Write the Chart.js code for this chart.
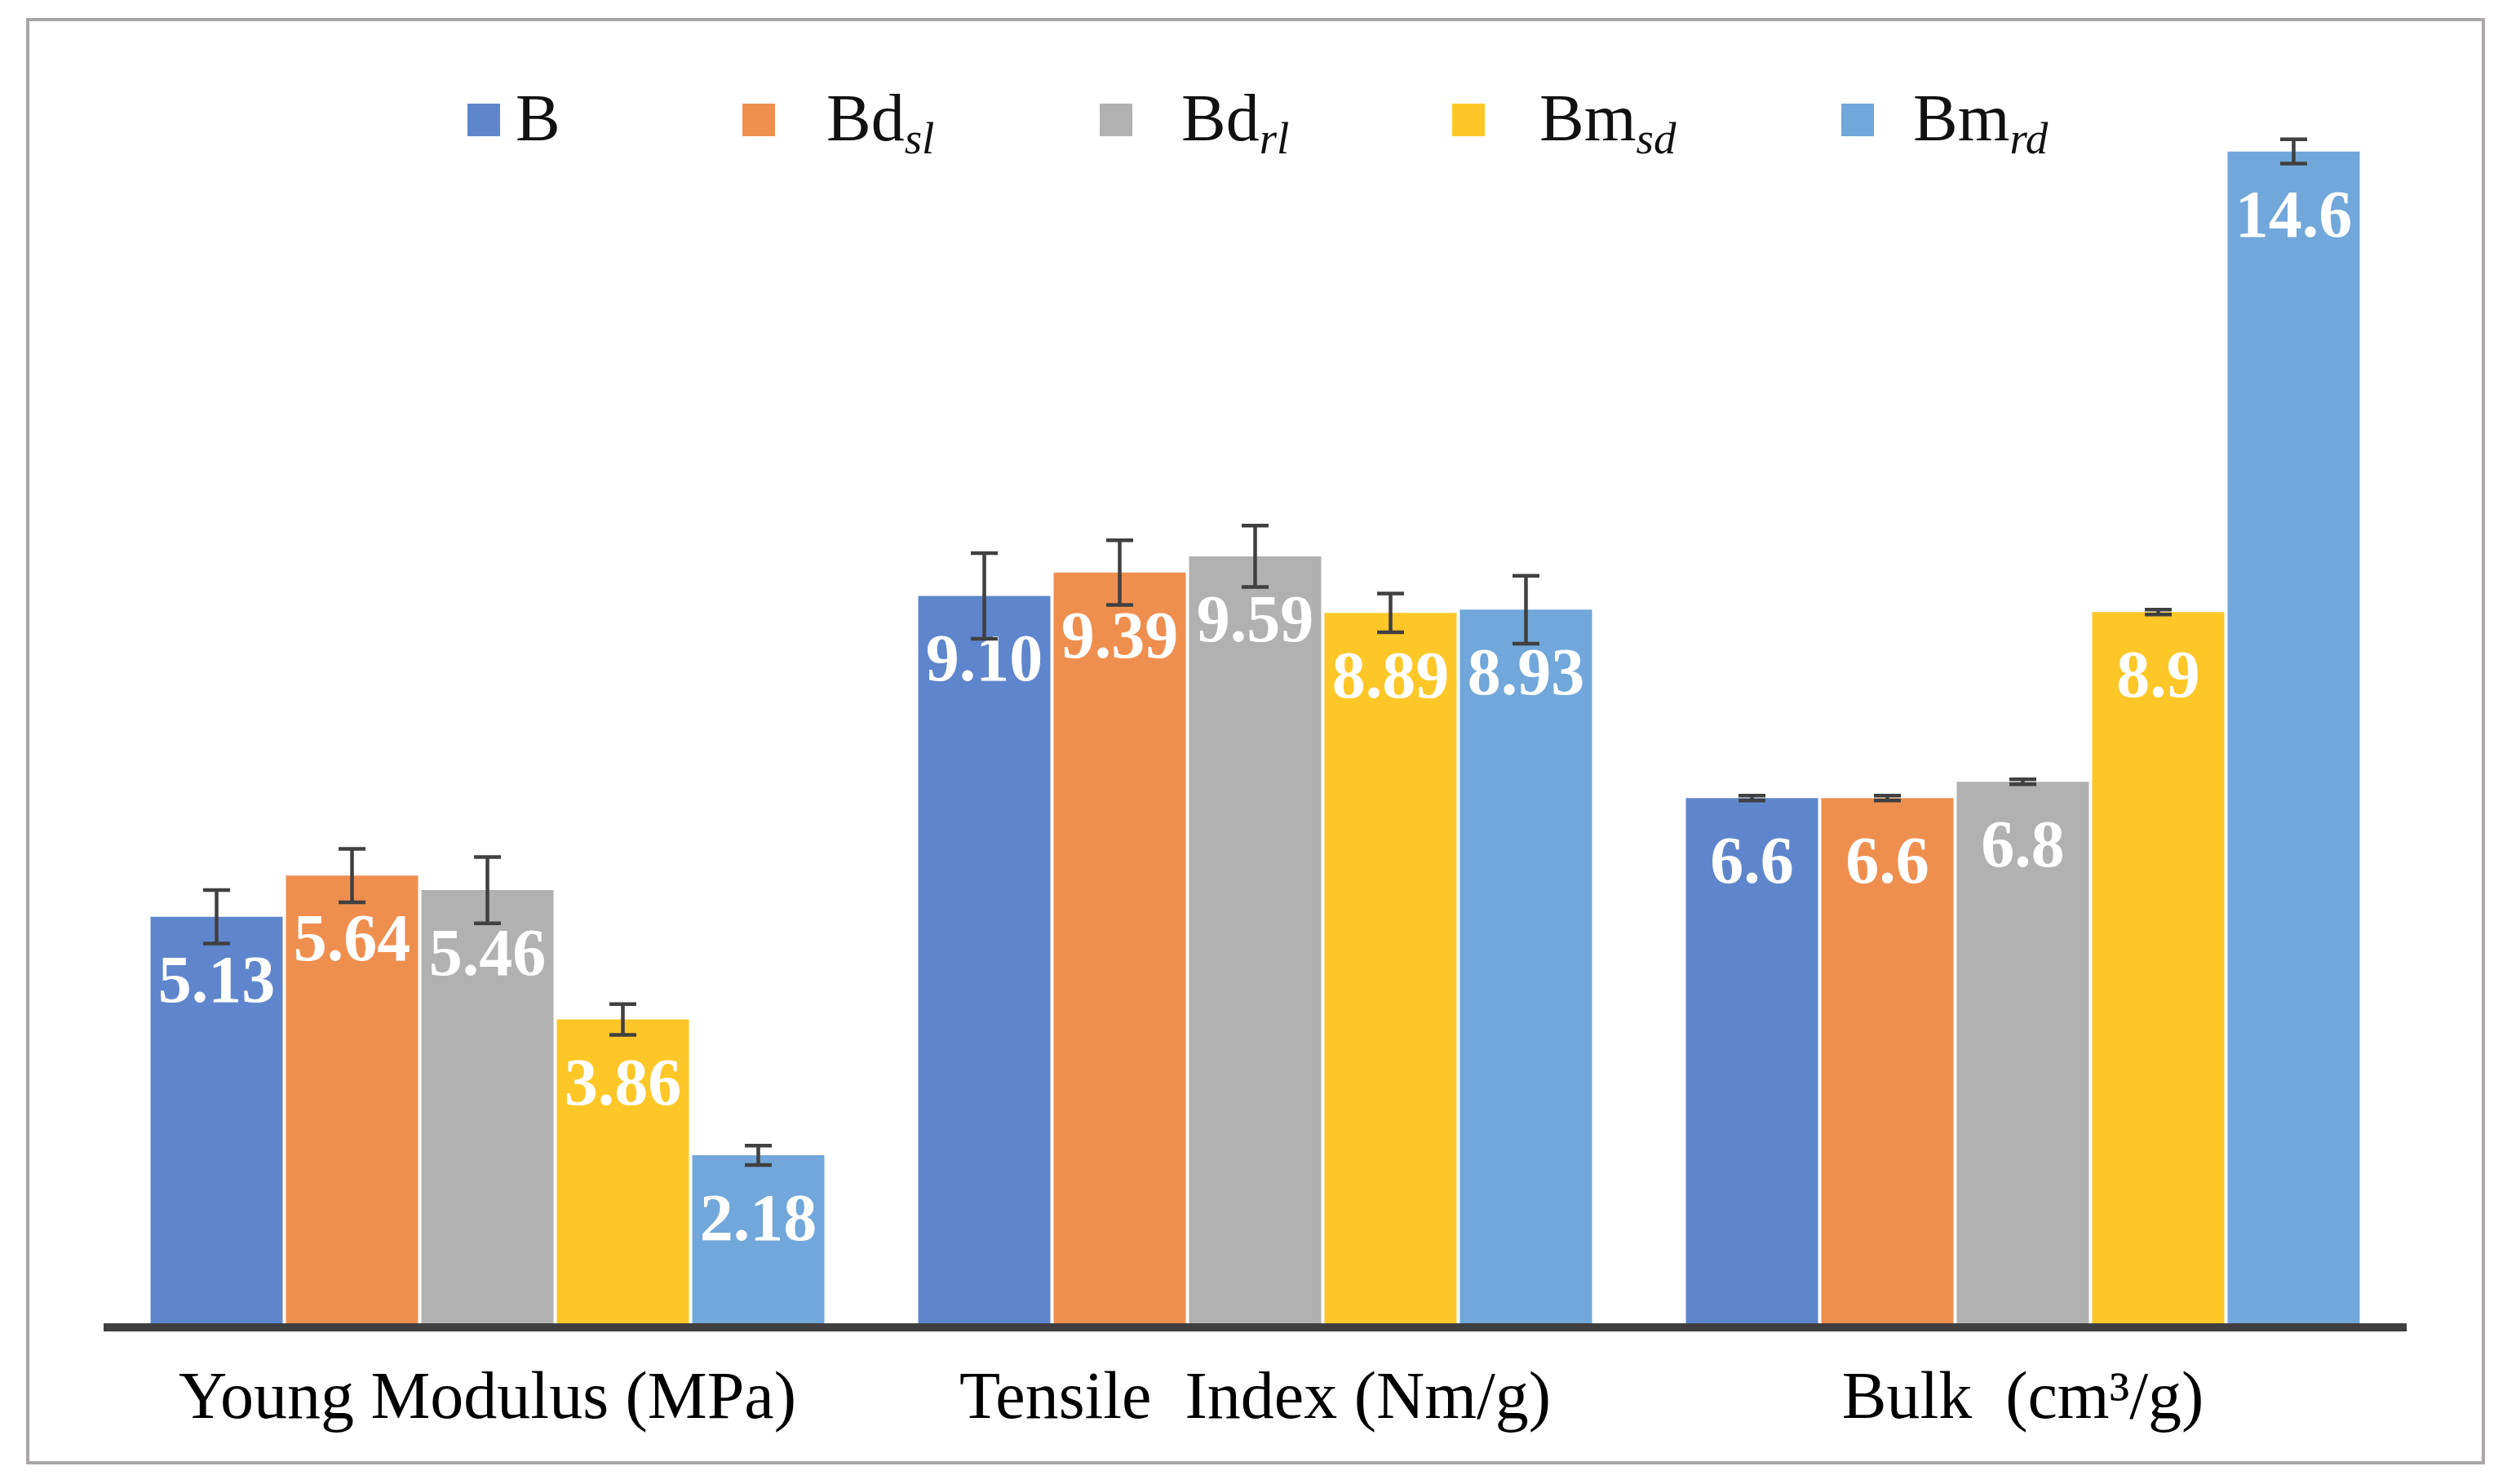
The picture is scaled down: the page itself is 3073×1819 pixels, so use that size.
<!DOCTYPE html>
<html>
<head>
<meta charset="utf-8">
<title>Paper properties</title>
<script src="https://cdn.jsdelivr.net/npm/chart.js@4.4.1/dist/chart.umd.min.js"></script>
<style>
html, body { margin: 0; padding: 0; background: #fff; }
#frame {
    position: absolute; left: 32px; top: 22px; width: 3014px; height: 1773px;
    box-sizing: border-box; border: 4px solid #a8a6a6;
}
#chart { position: absolute; left: 0; top: 0; }
</style>
</head>
<body>
<div id="frame"></div>
<canvas id="chart" width="3073" height="1819" style="width:3073px;height:1819px"></canvas>
<script>
// categories and how many decimals the value labels show
const categories = ['Young Modulus (MPa)', 'Tensile  Index (Nm/g)', 'Bulk  (cm\u00B3/g)'];
const labelDecimals = [2, 2, 1];

// series names (main part + italic subscript)
const seriesNames = ['B', 'Bd', 'Bd', 'Bm', 'Bm'];
const seriesSubs = ['', 'sl', 'rl', 'sd', 'rd'];
const seriesColors = ['#5f86cd', '#ef8f4f', '#b1b1b1', '#fec728', '#71a7da'];

// values per series (Young, Tensile, Bulk)
const valuesB    = [5.13, 9.10, 6.6];
const valuesBdsl = [5.64, 9.39, 6.6];
const valuesBdrl = [5.46, 9.59, 6.8];
const valuesBmsd = [3.86, 8.89, 8.9];
const valuesBmrd = [2.18, 8.93, 14.6];

// error bar half-ranges per series
const errorsB    = [0.33, 0.53, 0.03];
const errorsBdsl = [0.33, 0.40, 0.03];
const errorsBdrl = [0.41, 0.38, 0.03];
const errorsBmsd = [0.19, 0.24, 0.03];
const errorsBmrd = [0.12, 0.42, 0.15];

const allValues = [valuesB, valuesBdsl, valuesBdrl, valuesBmsd, valuesBmrd];
const allErrors = [errorsB, errorsBdsl, errorsBdrl, errorsBmsd, errorsBmrd];

// legend layout (Excel spaced these unevenly)
const legendBoxX = [573, 910, 1348, 1780, 2257];
const legendTextX = [632, 1013, 1448, 1887, 2345];

const serif = '"Liberation Serif", "Times New Roman", serif';

// draws value labels, error bars, the thick axis line and the legend
const overlayPlugin = {
    id: 'overlay',
    afterDatasetsDraw(chart) {
        const ctx = chart.ctx;
        const yScale = chart.scales.y;
        const area = chart.chartArea;
        ctx.save();

        // value labels inside the bar ends
        ctx.font = 'bold 82px ' + serif;
        ctx.fillStyle = '#ffffff';
        ctx.textAlign = 'center';
        ctx.textBaseline = 'alphabetic';
        chart.data.datasets.forEach(function(ds, i) {
            chart.getDatasetMeta(i).data.forEach(function(bar, j) {
                ctx.fillText(ds.data[j].toFixed(labelDecimals[j]), bar.x, bar.y + 104);
            });
        });

        // error bars
        ctx.strokeStyle = '#404040';
        ctx.lineWidth = 4.5;
        chart.data.datasets.forEach(function(ds, i) {
            chart.getDatasetMeta(i).data.forEach(function(bar, j) {
                const hi = yScale.getPixelForValue(ds.data[j] + ds.errors[j]);
                const lo = yScale.getPixelForValue(ds.data[j] - ds.errors[j]);
                ctx.beginPath();
                ctx.moveTo(bar.x, hi); ctx.lineTo(bar.x, lo);
                ctx.moveTo(bar.x - 16.5, hi); ctx.lineTo(bar.x + 16.5, hi);
                ctx.moveTo(bar.x - 16.5, lo); ctx.lineTo(bar.x + 16.5, lo);
                ctx.stroke();
            });
        });

        // category axis line
        const y0 = yScale.getPixelForValue(0);
        ctx.fillStyle = '#3f3f3f';
        ctx.fillRect(area.left, y0 - 10, area.right - area.left, 10);
        ctx.restore();
    },
    afterDraw(chart) {
        const ctx = chart.ctx;
        ctx.save();
        ctx.textAlign = 'left';
        ctx.textBaseline = 'alphabetic';
        chart.data.datasets.forEach(function(ds, i) {
            ctx.fillStyle = ds.backgroundColor;
            ctx.fillRect(legendBoxX[i], 127, 40, 40);
            ctx.fillStyle = '#111111';
            ctx.font = '82px ' + serif;
            ctx.fillText(seriesNames[i], legendTextX[i], 172);
            const w = ctx.measureText(seriesNames[i]).width;
            ctx.font = 'italic 55px ' + serif;
            ctx.fillText(seriesSubs[i], legendTextX[i] + w, 188);
        });
        ctx.restore();
    }
};

const datasets = allValues.map(function(vals, i) {
    return {
        label: seriesNames[i] + seriesSubs[i],
        data: vals,
        errors: allErrors[i],
        backgroundColor: seriesColors[i],
        borderWidth: 0,
        categoryPercentage: 0.882,
        barPercentage: 0.976
    };
});

var ctx = document.getElementById('chart').getContext('2d');
var myChart = new Chart(ctx, {
    type: 'bar',
    data: { labels: categories, datasets: datasets },
    options: {
        responsive: false,
        devicePixelRatio: 1,
        animation: false,
        layout: { padding: { left: 127, right: 123, top: 146, bottom: 47 } },
        plugins: {
            legend: { display: false },
            tooltip: { enabled: false }
        },
        scales: {
            x: {
                grid: { display: false, drawTicks: false },
                border: { display: false },
                ticks: {
                    font: { family: serif, size: 82 },
                    color: '#000000',
                    padding: 35,
                    maxRotation: 0,
                    autoSkip: false
                },
                afterFit: function(scale) { scale.height = 140; }
            },
            y: {
                display: false,
                min: 0,
                max: 15
            }
        }
    },
    plugins: [overlayPlugin]
});
</script>
</body>
</html>
